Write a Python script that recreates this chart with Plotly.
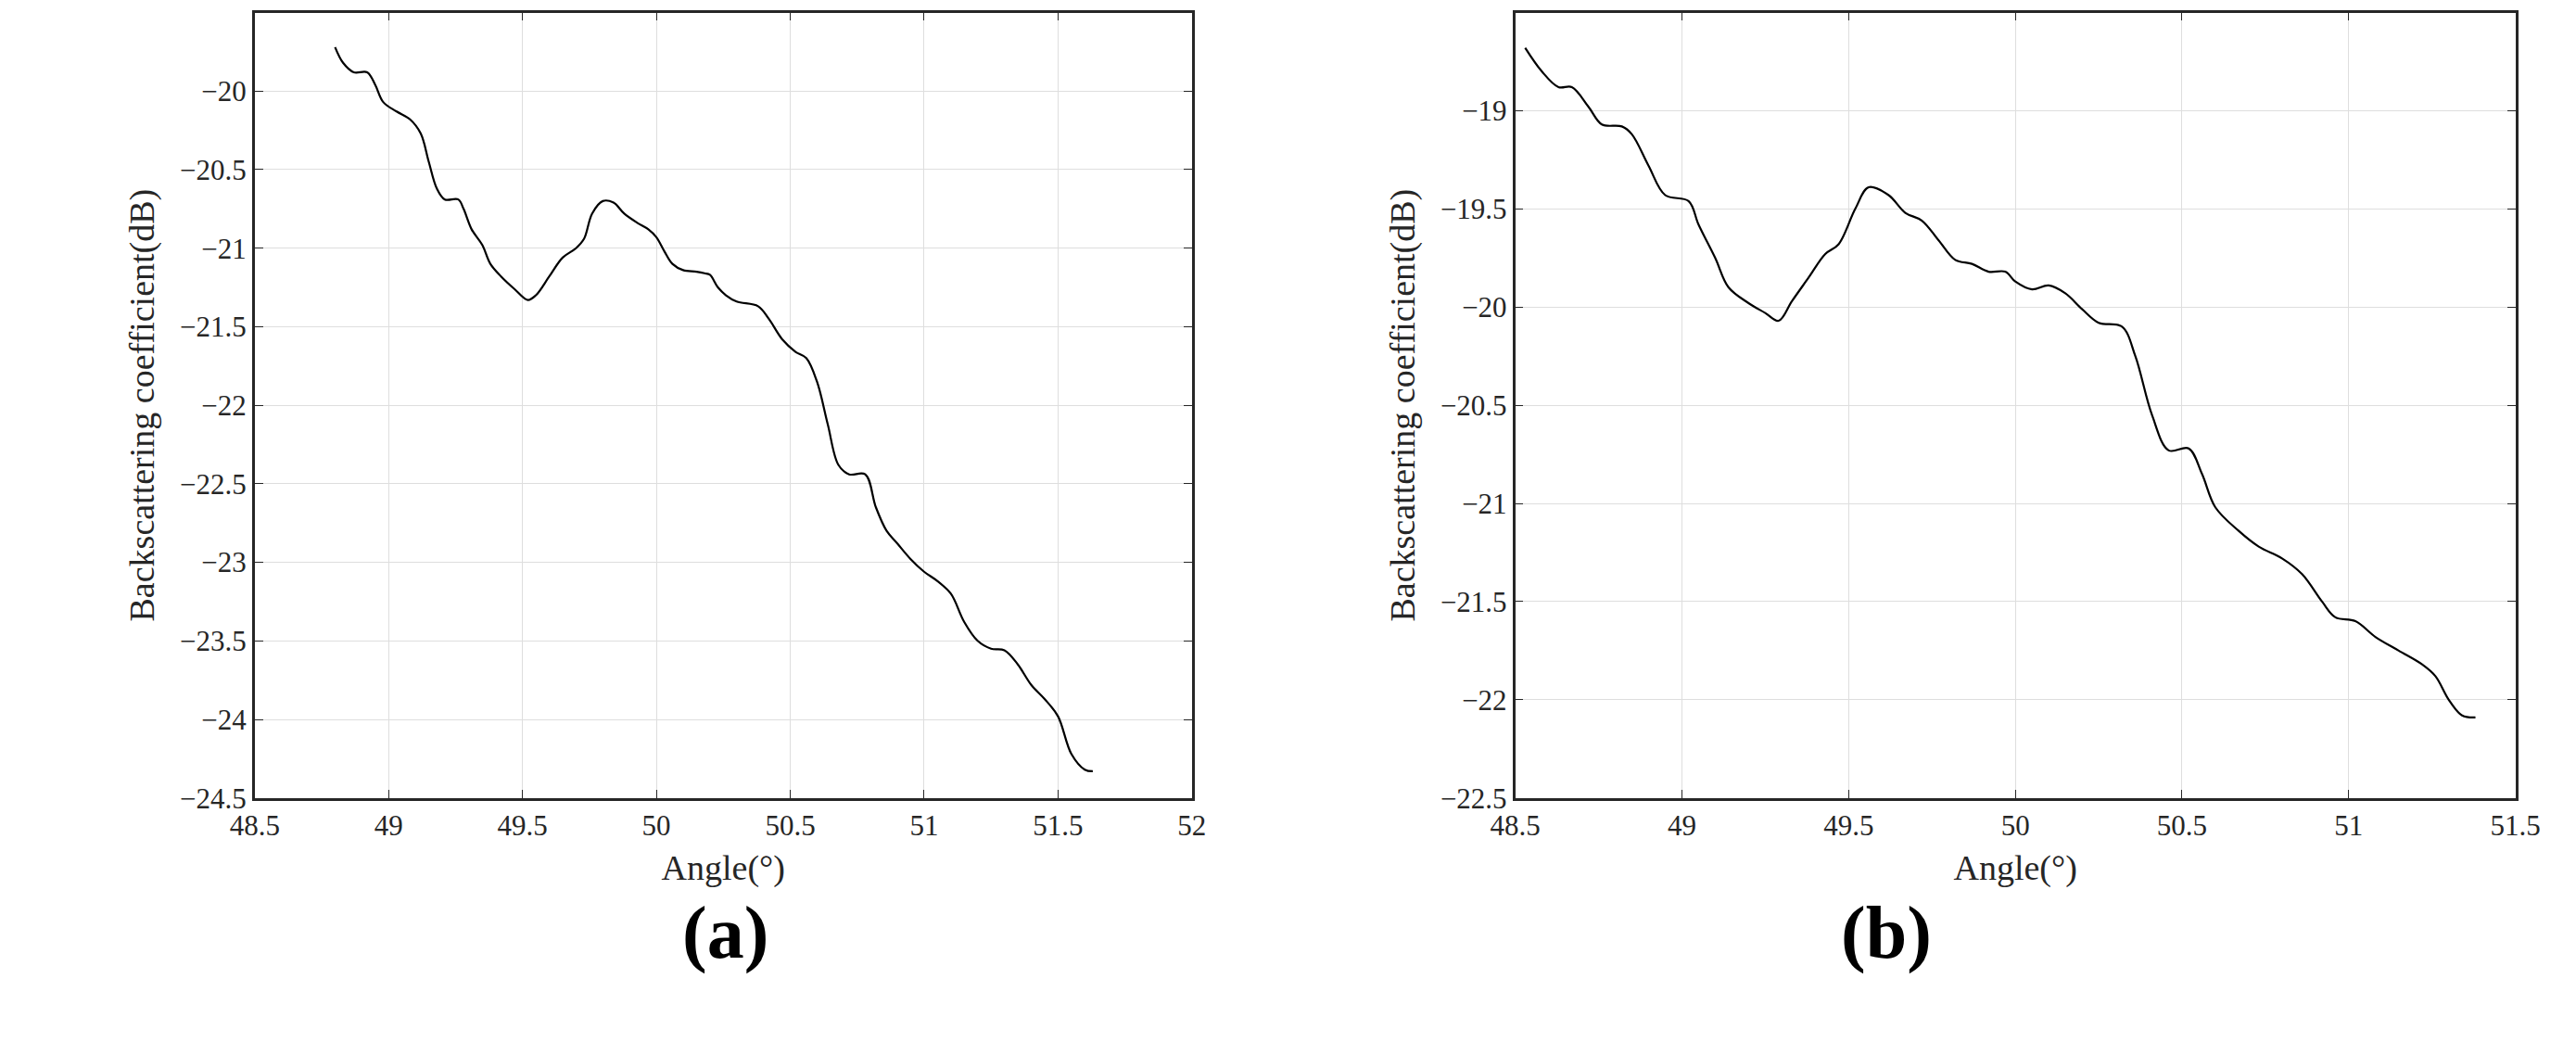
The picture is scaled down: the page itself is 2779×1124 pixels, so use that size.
import plotly.graph_objects as go

# panel (a)
angle_a = [48.80, 48.83, 48.87, 48.92, 48.95, 48.98, 49.03, 49.08, 49.12, 49.15, 49.18, 49.21, 49.26, 49.28,
           49.31, 49.35, 49.38, 49.42, 49.47, 49.52, 49.55, 49.60, 49.65, 49.70, 49.73, 49.76, 49.80, 49.84,
           49.88, 49.93, 49.97, 50.00, 50.03, 50.06, 50.10, 50.15, 50.18, 50.20, 50.23, 50.26, 50.30, 50.38,
           50.42, 50.47, 50.52, 50.56, 50.60, 50.64, 50.68, 50.72, 50.78, 50.82, 50.86, 50.90, 50.95, 51.00,
           51.05, 51.10, 51.15, 51.20, 51.25, 51.30, 51.35, 51.40, 51.45, 51.50, 51.55, 51.60, 51.63]
sigma_a = [-19.72, -19.82, -19.88, -19.88, -19.96, -20.07, -20.13, -20.18, -20.27, -20.45, -20.62, -20.69, -20.69, -20.75,
           -20.88, -20.98, -21.10, -21.18, -21.26, -21.33, -21.30, -21.18, -21.06, -21.00, -20.94, -20.78, -20.70, -20.71,
           -20.78, -20.84, -20.88, -20.93, -21.02, -21.10, -21.14, -21.15, -21.16, -21.17, -21.25, -21.30, -21.34, -21.37,
           -21.45, -21.58, -21.66, -21.70, -21.85, -22.12, -22.38, -22.44, -22.44, -22.65, -22.80, -22.88, -22.98, -23.06,
           -23.12, -23.20, -23.38, -23.50, -23.55, -23.56, -23.65, -23.78, -23.87, -23.98, -24.22, -24.32, -24.33]

# panel (b)
angle_b = [48.53, 48.58, 48.63, 48.67, 48.72, 48.76, 48.82, 48.85, 48.90, 48.95, 49.02, 49.05, 49.10, 49.14,
           49.20, 49.25, 49.29, 49.33, 49.38, 49.43, 49.47, 49.52, 49.56, 49.62, 49.67, 49.72, 49.77, 49.82,
           49.87, 49.92, 49.97, 50.00, 50.05, 50.10, 50.15, 50.20, 50.25, 50.32, 50.36, 50.41, 50.46, 50.52,
           50.56, 50.60, 50.67, 50.73, 50.80, 50.86, 50.92, 50.96, 51.02, 51.08, 51.15, 51.22, 51.26, 51.30,
           51.34, 51.38]
sigma_b = [-18.68, -18.80, -18.88, -18.88, -18.98, -19.07, -19.08, -19.12, -19.28, -19.43, -19.46, -19.58, -19.75, -19.90,
           -19.98, -20.03, -20.07, -19.97, -19.85, -19.73, -19.68, -19.50, -19.39, -19.43, -19.52, -19.56, -19.66, -19.76,
           -19.78, -19.82, -19.82, -19.87, -19.91, -19.89, -19.93, -20.01, -20.08, -20.10, -20.25, -20.55, -20.73, -20.72,
           -20.85, -21.02, -21.14, -21.22, -21.28, -21.36, -21.50, -21.58, -21.60, -21.68, -21.75, -21.82, -21.88, -22.00,
           -22.08, -22.09]

FONT = "Liberation Serif, DejaVu Serif, serif"

fig = go.Figure()
fig.add_trace(go.Scatter(x=angle_a, y=sigma_a, mode="lines", line=dict(color="black", width=2.2, shape="spline"),
                         xaxis="x", yaxis="y", showlegend=False))
fig.add_trace(go.Scatter(x=angle_b, y=sigma_b, mode="lines", line=dict(color="black", width=2.2, shape="spline"),
                         xaxis="x2", yaxis="y2", showlegend=False))

ax = dict(showline=True, linecolor="#262626", linewidth=2.5, mirror="ticks", ticks="inside", ticklen=9,
          tickcolor="#262626", showgrid=True, gridcolor="#dedede", gridwidth=1, zeroline=False,
          tickfont=dict(family=FONT, size=31, color="#262626"))
xt = dict(text="Angle(°)", font=dict(family=FONT, size=38, color="#262626"), standoff=16)
yt = dict(text="Backscattering coefficient(dB)", font=dict(family=FONT, size=38, color="#262626"), standoff=16)

fig.update_layout(
    width=2779, height=1124, paper_bgcolor="white", plot_bgcolor="white",
    margin=dict(l=0, r=0, t=0, b=0),
    xaxis=dict(ax, domain=[0.088, 0.459], range=[48.5, 52], dtick=0.5, title=xt, anchor="y"),
    yaxis=dict(ax, domain=[0.229, 0.995], range=[-24.5, -19.5], dtick=0.5, title=yt, anchor="x"),
    xaxis2=dict(ax, domain=[0.587, 0.983], range=[48.5, 51.5], dtick=0.5, title=xt, anchor="y2"),
    yaxis2=dict(ax, domain=[0.229, 0.995], range=[-22.5, -18.5], dtick=0.5, title=yt, anchor="x2"),
    annotations=[
        dict(text="<b>(a)</b>", x=0.2565, y=0.055, xref="paper", yref="paper", showarrow=False,
             font=dict(family=FONT, size=80, color="black")),
        dict(text="<b>(b)</b>", x=0.7525, y=0.055, xref="paper", yref="paper", showarrow=False,
             font=dict(family=FONT, size=80, color="black")),
    ],
)

fig.write_html("out.html")
